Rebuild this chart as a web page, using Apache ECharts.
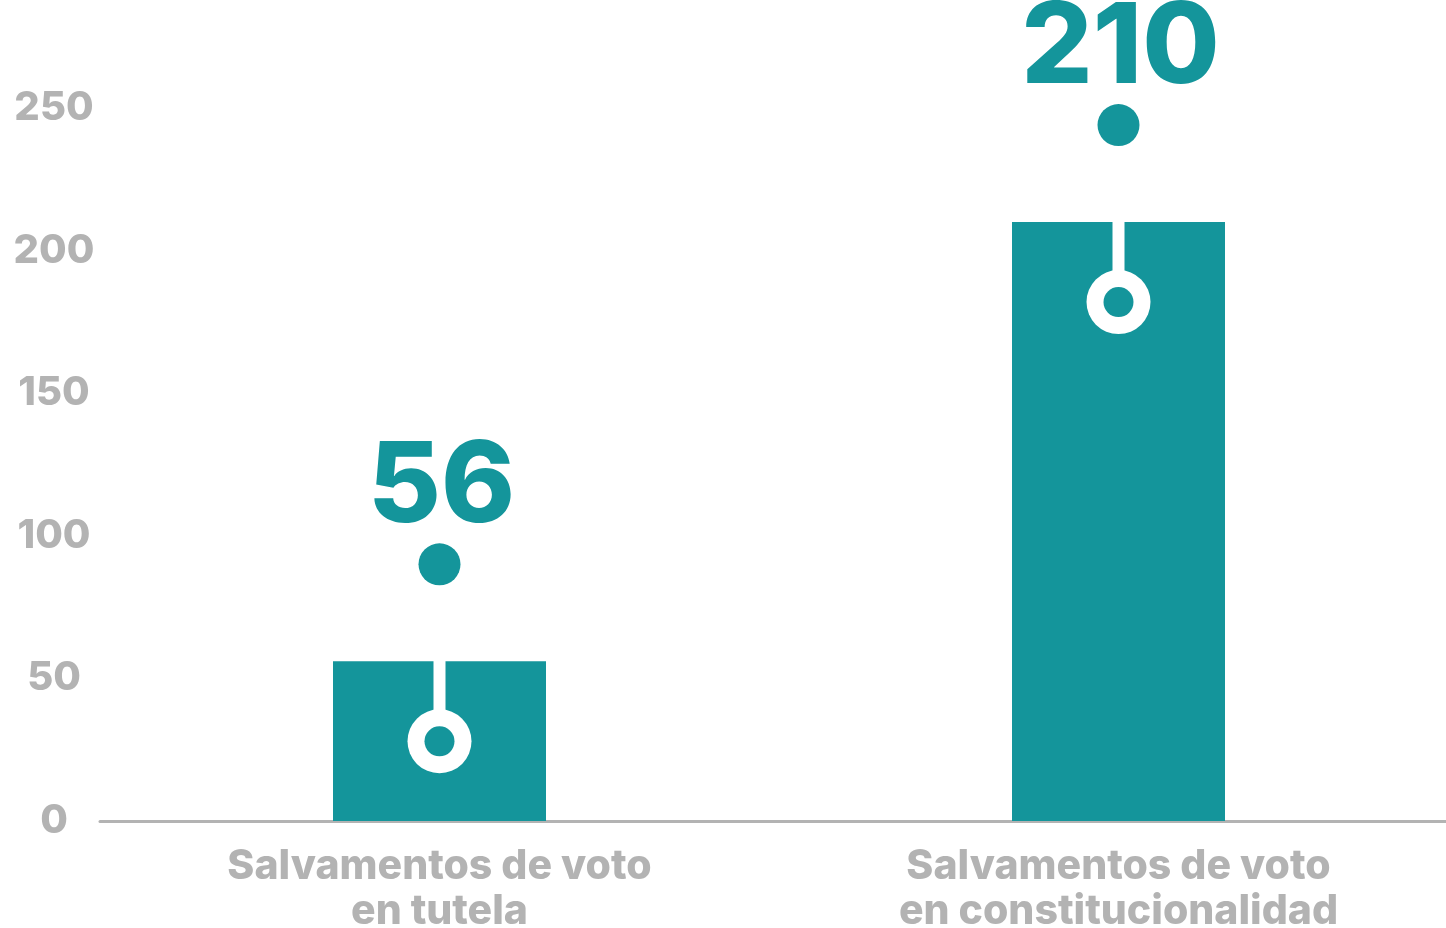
<!DOCTYPE html>
<html>

<head>
	<meta charset="UTF-8">
	<script src="https://cdn.jsdelivr.net/npm/echarts@6/dist/echarts.min.js"></script>
	<style>
		body {
			margin: 0;
			padding: 0;
			background: #ffffff;
		}

		#chart {
			width: 1446px;
			height: 928px;
		}
	</style>
</head>

<body>
	<div id="chart"></div>
	<script>
		// 数据
		var categories = ['Salvamentos de voto\nen tutela', 'Salvamentos de voto\nen constitucionalidad'];
		var values = [56, 210];
		var yTicks = [0, 50, 100, 150, 200, 250];

		var teal = '#14959b';
		var grey = '#b3b3b3';

		// 装饰：白线 + 圆环 + 上方圆点 + 数字
		function renderDeco(params, api) {
			var p = api.coord([api.value(0), api.value(1)]);
			var cx = p[0], top = p[1];
			var ringY = top + 80;
			var dotY = top - 97;
			return {
				type: 'group',
				children: [
					{ type: 'rect', shape: { x: cx - 6, y: top - 1, width: 12, height: ringY - top }, style: { fill: '#fff' } },
					{ type: 'circle', shape: { cx: cx, cy: ringY, r: 32 }, style: { fill: '#fff' } },
					{ type: 'circle', shape: { cx: cx, cy: ringY, r: 15 }, style: { fill: teal } },
					{ type: 'circle', shape: { cx: cx, cy: dotY, r: 21 }, style: { fill: teal } },
					{
						type: 'text',
						style: {
							text: String(api.value(1)),
							x: cx + 2,
							y: dotY - 20,
							align: 'center',
							verticalAlign: 'bottom',
							fontSize: 112,
							fontWeight: 800,
							fontFamily: 'Inter',
							fill: teal
						}
					}
				]
			};
		}

		var chart = echarts.init(document.getElementById('chart'));
		chart.setOption({
			animation: false,
			grid: { left: 100, top: 108, width: 1358, bottom: 107, outerBoundsMode: 'none' },
			xAxis: {
				type: 'category',
				data: categories,
				axisLine: { lineStyle: { color: grey, width: 3 } },
				axisTick: { show: false },
				axisLabel: {
					color: grey,
					fontSize: 41,
					fontWeight: 800,
					fontFamily: 'Inter',
					lineHeight: 45,
					margin: 23
				}
			},
			yAxis: {
				type: 'value',
				min: yTicks[0],
				max: yTicks[yTicks.length - 1],
				interval: 50,
				splitLine: { show: false },
				axisLine: { show: false },
				axisTick: { show: false },
				axisLabel: {
					color: grey,
					fontSize: 40,
					fontWeight: 800,
					fontFamily: 'Inter',
					align: 'center',
					margin: 46
				}
			},
			series: [
				{
					type: 'bar',
					data: values,
					barWidth: 213,
					itemStyle: { color: teal },
					z: 2
				},
				{
					type: 'custom',
					data: values.map(function (v, i) { return [i, v]; }),
					encode: { x: 0, y: 1 },
					renderItem: renderDeco,
					clip: false,
					z: 3
				}
			]
		});
	</script>
</body>

</html>
